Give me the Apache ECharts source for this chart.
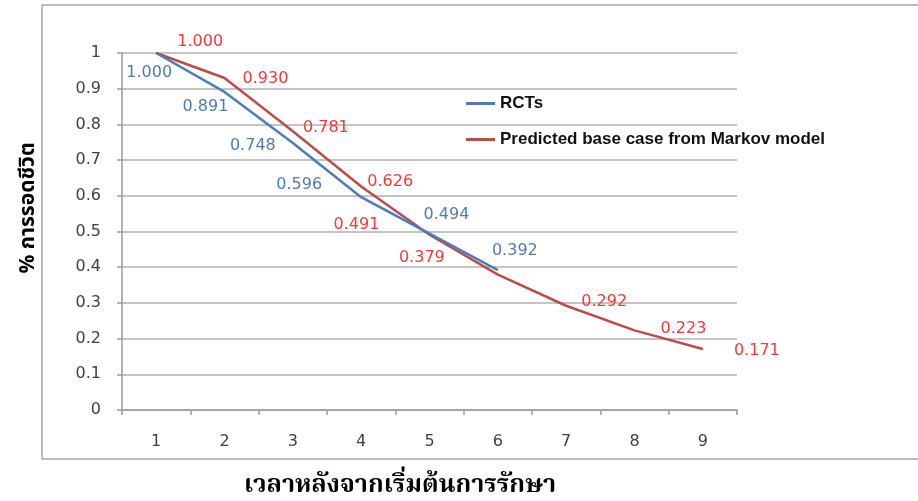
<!DOCTYPE html>
<html>
<head>
<meta charset="utf-8">
<script src="https://cdn.jsdelivr.net/npm/echarts@6/dist/echarts.min.js"></script>
<style>
  html, body { margin: 0; padding: 0; background: #fff; }
  #chart { width: 918px; height: 501px; }
</style>
</head>
<body>
<div id="chart"></div>
<script>
// Survival over time: observed trial data vs. Markov model prediction
const categories = ['1', '2', '3', '4', '5', '6', '7', '8', '9'];
const rctValues = [1.000, 0.891, 0.748, 0.596, 0.494, 0.392];
const markovValues = [1.000, 0.930, 0.781, 0.626, 0.491, 0.379, 0.292, 0.223, 0.171];
const yTicks = [0, 0.1, 0.2, 0.3, 0.4, 0.5, 0.6, 0.7, 0.8, 0.9, 1];

const seriesNames = ['RCTs', 'Predicted base case from Markov model'];

// Label placement (pixel offsets from each point)
const rctLabelOffsets = [[-7, 20], [-19, 15], [-40, 3], [-62, -12], [17, -19], [17, -19]];
const markovLabelOffsets = [[44, -11], [41, 1], [33, -3], [29, -5], [-73, -10], [-76, -17], [38, -4], [49, -2], [54, 2]];

const blue = '#4a7ebb';
const red = '#be4b48';
const labelFont = 'DejaVu Sans, Verdana, sans-serif';

function withLabels(values, offsets) {
  return values.map((v, i) => ({
    value: v,
    label: { offset: offsets[i] }
  }));
}

const chart = echarts.init(document.getElementById('chart'));
chart.setOption({
  animation: false,
  backgroundColor: '#ffffff',
  grid: { left: 122, right: 181, top: 53, bottom: 91 },
  graphic: [
    {
      type: 'rect',
      shape: { x: 42, y: 5, width: 900, height: 454 },
      style: { fill: 'none', stroke: '#a6a6a6', lineWidth: 1.5 },
      z: -1
    },
    {
      type: 'text',
      x: 30, y: 208,
      rotation: Math.PI / 2,
      style: {
        text: '% การรอดชีวิต',
        font: 'bold 21px "Noto Sans Thai", "Loma", "Garuda", "Noto Sans", "DejaVu Sans", serif',
        fill: '#000',
        align: 'center',
        verticalAlign: 'middle'
      }
    },
    {
      type: 'text',
      x: 400, y: 488,
      style: {
        text: 'เวลาหลังจากเริ่มต้นการรักษา',
        font: 'bold 25px "Noto Serif Thai", "Noto Sans Thai", "Norasi", "Loma", "Garuda", "DejaVu Serif", serif',
        fill: '#000',
        align: 'center',
        verticalAlign: 'middle'
      }
    }
  ],
  legend: {
    orient: 'vertical',
    left: 466,
    top: 95,
    padding: 0,
    icon: 'rect',
    itemWidth: 29,
    itemHeight: 3,
    itemGap: 19,
    data: seriesNames,
    textStyle: {
      fontFamily: 'Liberation Sans, Arial, sans-serif',
      fontWeight: 'bold',
      fontSize: 17,
      color: '#111'
    }
  },
  xAxis: {
    type: 'category',
    data: categories,
    boundaryGap: true,
    axisLine: { lineStyle: { color: '#9a9a9a', width: 1.5 } },
    axisTick: { show: true, length: 5, lineStyle: { color: '#9a9a9a', width: 1.5 } },
    axisLabel: { margin: 24, fontSize: 16, color: '#404040', fontFamily: labelFont },
    splitLine: { show: false }
  },
  yAxis: {
    type: 'value',
    min: 0,
    max: 1,
    interval: 0.1,
    axisLine: { show: true, lineStyle: { color: '#9a9a9a', width: 1.5 } },
    axisTick: { show: true, length: 5, lineStyle: { color: '#9a9a9a', width: 1.5 } },
    axisLabel: {
      margin: 21,
      fontSize: 16,
      color: '#404040',
      fontFamily: labelFont,
      formatter: v => {
        const t = yTicks.find(x => Math.abs(x - v) < 1e-9);
        return t === undefined ? '' : String(t);
      }
    },
    splitLine: { lineStyle: { color: '#b0b0b0', width: 1.5 } }
  },
  series: [
    {
      name: seriesNames[0],
      type: 'line',
      data: withLabels(rctValues, rctLabelOffsets),
      symbol: 'circle',
      symbolSize: 0.1,
      itemStyle: { color: blue },
      lineStyle: { color: blue, width: 2.5 },
      label: {
        show: true,
        position: 'inside',
        color: '#4f7cb0',
        fontSize: 16,
        fontFamily: labelFont,
        formatter: p => p.value.toFixed(3)
      },
      z: 3
    },
    {
      name: seriesNames[1],
      type: 'line',
      data: withLabels(markovValues, markovLabelOffsets),
      symbol: 'circle',
      symbolSize: 0.1,
      itemStyle: { color: red },
      lineStyle: { color: red, width: 2.5 },
      label: {
        show: true,
        position: 'inside',
        color: '#f23a3a',
        fontSize: 16,
        fontFamily: labelFont,
        formatter: p => p.value.toFixed(3)
      },
      z: 2
    }
  ]
});
</script>
</body>
</html>
